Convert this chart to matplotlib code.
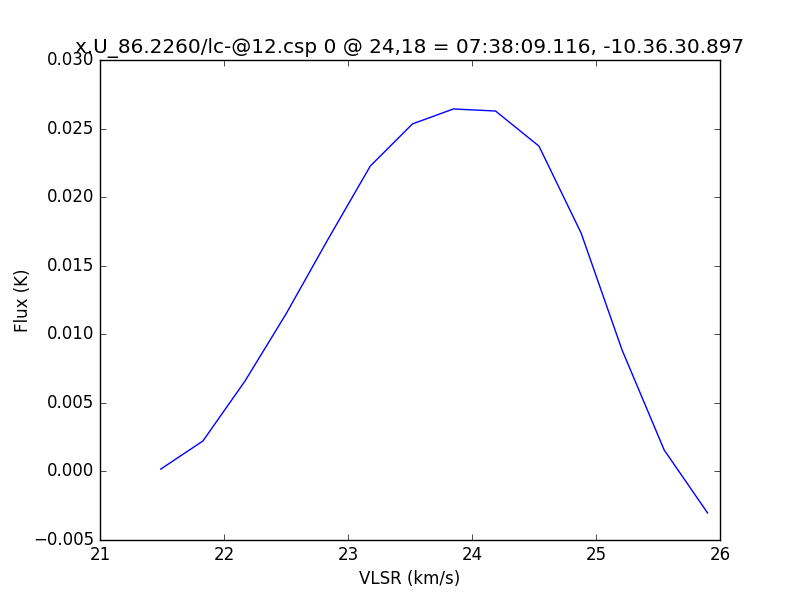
import matplotlib
matplotlib.use("Agg")
import matplotlib.pyplot as plt

# spectrum
vlsr = [21.49, 21.83, 22.17, 22.50, 22.84, 23.18, 23.52, 23.85,
        24.19, 24.54, 24.88, 25.21, 25.55, 25.90]
flux = [0.00017, 0.00222, 0.0066, 0.01148, 0.01695, 0.02227, 0.02534, 0.02643,
        0.02628, 0.02372, 0.01738, 0.00886, 0.00156, -0.00303]

plt.style.use("classic")
fig = plt.figure(figsize=(8, 6), dpi=100)
ax = fig.add_subplot(111)
ax.plot(vlsr, flux, "b-")
ax.set_xlim(21, 26)
ax.set_ylim(-0.005, 0.030)
ax.set_xlabel("VLSR (km/s)")
ax.set_ylabel("Flux (K)", labelpad=1)
ax.set_title("x.U_86.2260/lc-@12.csp 0 @ 24,18 = 07:38:09.116, -10.36.30.897")
fig.savefig("out.png", dpi=100, facecolor="white")
